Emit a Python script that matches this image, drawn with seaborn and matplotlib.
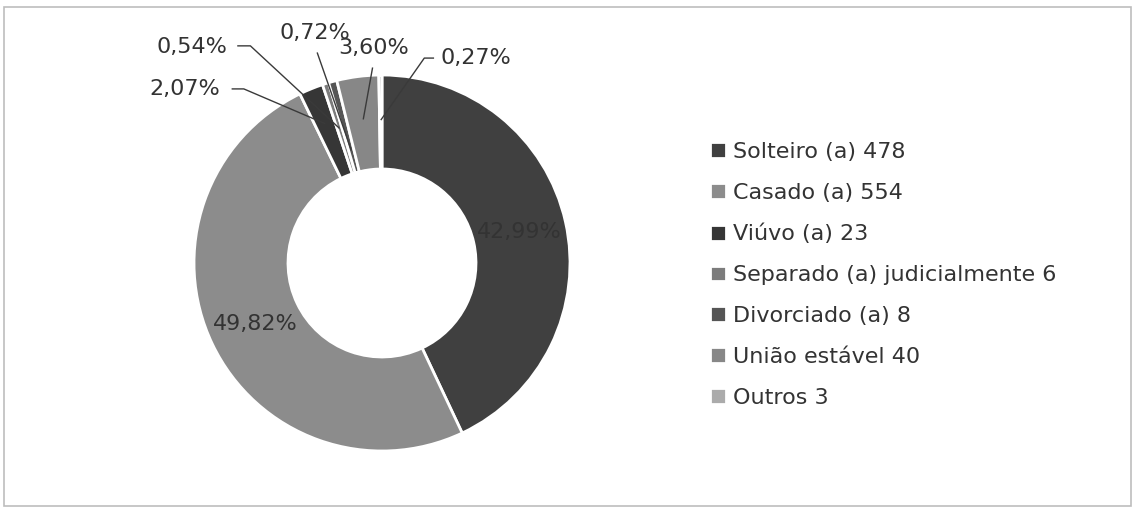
import matplotlib
matplotlib.use("Agg")
import matplotlib.pyplot as plt
import seaborn as sns
import numpy as np
from matplotlib.patches import Rectangle

categories = ["Solteiro (a)", "Casado (a)", "Viúvo (a)", "Separado (a) judicialmente",
              "Divorciado (a)", "União estável", "Outros"]
counts = [478, 554, 23, 6, 8, 40, 3]
pct_labels = ["42,99%", "49,82%", "2,07%", "0,54%", "0,72%", "3,60%", "0,27%"]

colors = ["#404040", "#8c8c8c", "#363636", "#7c7c7c", "#555555", "#878787", "#ababab"]

sns.set_theme(style="white")
plt.rcParams['font.family'] = ['DejaVu Sans']

W, H = 1135, 512
cx, cy, R = 382, 263, 188
fig = plt.figure(figsize=(W/100, H/100), dpi=100)
ax = fig.add_axes([(cx - R)/W, (H - cy - R)/H, 2*R/W, 2*R/H])

wedges, _ = ax.pie(counts, colors=colors, startangle=90, counterclock=False,
                   radius=1.0, wedgeprops=dict(width=0.5, edgecolor="white", linewidth=2))
ax.set_xlim(-1, 1)
ax.set_ylim(-1, 1)
ax.set_aspect("equal")

txt_color = "#333333"

def mid_point(i, r):
    w = wedges[i]
    ang = np.deg2rad((w.theta1 + w.theta2) / 2)
    return r*np.cos(ang), r*np.sin(ang)

# inside labels for large slices
for i in (0, 1):
    x, y = mid_point(i, 0.75)
    ax.text(x, y, pct_labels[i], ha="center", va="center", fontsize=16, color=txt_color)

# outside labels with leader lines
outside = {
    2: dict(t=(-0.862, 0.926), ha="right", path=[(-0.80, 0.926), (-0.735, 0.926)], r=0.80),
    3: dict(t=(-0.824, 1.149), ha="right", path=[(-0.77, 1.155), (-0.70, 1.155)], r=0.75),
    4: dict(t=(-0.356, 1.223), ha="center", path=[(-0.345, 1.12)], r=0.62),
    5: dict(t=(-0.043, 1.144), ha="center", path=[(-0.05, 1.04)], r=0.77),
    6: dict(t=(0.309, 1.09), ha="left", path=[(0.277, 1.09), (0.225, 1.09)], r=0.76),
}
for i, d in outside.items():
    ax.text(d["t"][0], d["t"][1], pct_labels[i], ha=d["ha"], va="center",
            fontsize=16, color=txt_color, clip_on=False)
    pts = d["path"] + [mid_point(i, d["r"])]
    xs, ys = zip(*pts)
    ax.plot(xs, ys, color="#3a3a3a", lw=1.0, clip_on=False, solid_capstyle="butt")

legend_labels = [f"{c} {n}" for c, n in zip(categories, counts)]
fig.legend(wedges, legend_labels, loc="center left", bbox_to_anchor=(710/W, 1 - 275/H),
           frameon=False, fontsize=16, handlelength=0.72, handleheight=0.72,
           handletextpad=0.3, labelspacing=0.94, labelcolor=txt_color,
           borderaxespad=0, borderpad=0)

fig.patches.append(Rectangle((4/W, 6/H), 1127/W, 499/H, transform=fig.transFigure,
                             fill=False, edgecolor="#bdbdbd", linewidth=1.2))

fig.savefig("out.png", dpi=100, facecolor="white")
